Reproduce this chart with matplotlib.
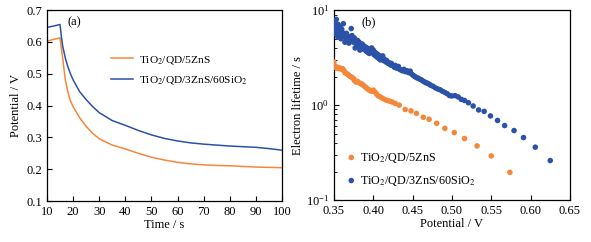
import matplotlib
matplotlib.use("Agg")
import matplotlib.pyplot as plt
from matplotlib.ticker import LogLocator, NullFormatter

plt.rcParams['font.family'] = ['Liberation Serif', 'DejaVu Serif']
plt.rcParams['mathtext.fontset'] = 'stix'
plt.rcParams['font.size'] = 9

orange = "#f5873a"
blue = "#2a52a8"

labels = [r"TiO$_2$/QD/5ZnS", r"TiO$_2$/QD/3ZnS/60SiO$_2$"]

# (a) open-circuit voltage decay
time = [10, 12.5, 15, 15.5, 16, 17, 18, 19, 20, 22.5, 25, 27.5, 30, 35, 40,
        45, 50, 55, 60, 65, 70, 75, 80, 85, 90, 95, 100]
v_zns = [0.603, 0.608, 0.613, 0.58, 0.55, 0.482, 0.443, 0.415, 0.397, 0.362,
         0.335, 0.313, 0.296, 0.276, 0.264, 0.25, 0.238, 0.229, 0.222, 0.217,
         0.214, 0.212, 0.211, 0.209, 0.207, 0.206, 0.205]
v_sio2 = [0.646, 0.65, 0.655, 0.618, 0.588, 0.55, 0.522, 0.5, 0.481, 0.444,
          0.419, 0.397, 0.378, 0.353, 0.338, 0.322, 0.308, 0.297, 0.289, 0.283,
          0.279, 0.276, 0.273, 0.271, 0.269, 0.265, 0.26]

# (b) electron lifetime vs potential
pot_zns = [0.350, 0.351, 0.352, 0.354, 0.355, 0.357, 0.358, 0.360, 0.361, 0.363,
           0.364, 0.366, 0.368, 0.369, 0.371, 0.373, 0.375, 0.376, 0.378, 0.380,
           0.382, 0.384, 0.386, 0.388, 0.390, 0.392, 0.394, 0.396, 0.398, 0.400,
           0.402, 0.404, 0.406, 0.409, 0.412, 0.415, 0.418, 0.421, 0.424, 0.428,
           0.433, 0.4406, 0.448, 0.455, 0.4636, 0.471, 0.4806, 0.491, 0.503,
           0.516, 0.532, 0.550, 0.5737]
tau_zns = [2.85, 2.6, 2.5, 2.45, 2.5, 2.42, 2.45, 2.38, 2.42, 2.3,
           2.2, 2.15, 2.1, 2.05, 2.0, 1.96, 1.9, 1.82, 1.75, 1.78,
           1.72, 1.68, 1.66, 1.6, 1.55, 1.5, 1.46, 1.42, 1.40, 1.44,
           1.38, 1.32, 1.26, 1.22, 1.18, 1.14, 1.12, 1.10, 1.08, 1.04,
           1.0, 0.90, 0.87, 0.82, 0.745, 0.71, 0.644, 0.57, 0.514,
           0.445, 0.372, 0.292, 0.196]

pot_sio2 = [0.350, 0.351, 0.351, 0.352, 0.352, 0.353, 0.354, 0.355, 0.355, 0.356,
            0.357, 0.358, 0.359, 0.360, 0.361, 0.362, 0.363, 0.364, 0.365, 0.366,
            0.367, 0.368, 0.369, 0.370, 0.371, 0.372, 0.373, 0.374, 0.375, 0.376,
            0.377, 0.378, 0.379, 0.380, 0.381, 0.382, 0.383, 0.384, 0.385, 0.386,
            0.387, 0.388, 0.389, 0.390, 0.391, 0.392, 0.393, 0.394, 0.395, 0.396,
            0.397, 0.398, 0.399, 0.400, 0.401, 0.402, 0.403, 0.404, 0.405, 0.406,
            0.407, 0.408, 0.409, 0.410, 0.412, 0.413, 0.414, 0.416, 0.417, 0.419,
            0.420, 0.422, 0.423, 0.425, 0.427, 0.428, 0.430, 0.432, 0.433, 0.435,
            0.437, 0.439, 0.441, 0.443, 0.445, 0.447, 0.449, 0.451, 0.453, 0.455,
            0.457, 0.459, 0.461, 0.463, 0.465, 0.467, 0.469, 0.471, 0.473, 0.476,
            0.479, 0.482, 0.485, 0.488, 0.491, 0.494, 0.497, 0.500, 0.504, 0.508,
            0.512, 0.516, 0.521, 0.527, 0.534, 0.541, 0.549, 0.558, 0.567, 0.579,
            0.591, 0.606, 0.625]
tau_sio2 = [7.8, 6.9, 6.2, 7.3, 5.6, 8.0, 6.6, 5.2, 7.1, 6.0,
            5.5, 6.8, 5.0, 6.3, 5.8, 7.2, 5.4, 4.6, 5.1, 5.7,
            4.8, 5.3, 4.5, 5.0, 4.7, 6.4, 5.4, 4.9, 4.6, 5.1,
            4.0, 4.5, 4.2, 4.8, 4.4, 4.6, 3.8, 4.3, 4.1, 4.4,
            3.9, 4.2, 3.9, 4.1, 3.7, 4.0, 3.6, 3.9, 3.5, 3.8,
            3.6, 4.0, 3.6, 3.8, 3.4, 3.6, 3.3, 3.5, 3.2, 3.4,
            3.1, 3.3, 3.0, 3.2, 3.3, 2.95, 3.05, 2.85, 2.95, 2.75,
            2.8, 2.65, 2.75, 2.6, 2.5, 2.62, 2.45, 2.55, 2.4, 2.35,
            2.3, 2.38, 2.25, 2.3, 2.2, 2.28, 2.12, 2.05, 2.0, 1.95,
            1.92, 1.88, 1.85, 1.8, 1.76, 1.72, 1.7, 1.66, 1.62, 1.58,
            1.52, 1.48, 1.45, 1.40, 1.36, 1.32, 1.26, 1.25, 1.26, 1.22,
            1.15, 1.12, 1.06, 0.98, 0.89, 0.86, 0.77, 0.69, 0.61, 0.54,
            0.456, 0.361, 0.261]

fig = plt.figure(figsize=(5.91, 2.42), dpi=100)
ax1 = fig.add_axes([0.0795, 0.169, 0.3976, 0.789])
ax2 = fig.add_axes([0.565, 0.173, 0.3993, 0.785])

ax1.plot(time, v_zns, color=orange, lw=1.1, label=labels[0])
ax1.plot(time, v_sio2, color=blue, lw=1.1, label=labels[1])
ax1.set_xlim(10, 100)
ax1.set_ylim(0.1, 0.7)
ax1.set_xticks(range(10, 101, 10))
ax1.set_yticks([0.1, 0.2, 0.3, 0.4, 0.5, 0.6, 0.7])
ax1.set_xlabel("Time / s", labelpad=1)
ax1.set_ylabel("Potential / V", labelpad=3)
ax1.text(0.088, 0.97, "(a)", transform=ax1.transAxes, va="top", ha="left")
ax1.legend(loc="upper left", bbox_to_anchor=(0.255, 0.795), frameon=False,
           handlelength=1.9, handletextpad=0.5, labelspacing=0.75,
           borderaxespad=0, fontsize=8.2)

ax2.scatter(pot_zns, tau_zns, s=16, color=orange, edgecolors="none",
            label=labels[0], zorder=3)
ax2.scatter(pot_sio2, tau_sio2, s=16, color=blue, edgecolors="none",
            label=labels[1], zorder=3)
ax2.set_yscale("log")
ax2.set_xlim(0.35, 0.65)
ax2.set_ylim(0.1, 10)
ax2.set_xticks([0.35, 0.40, 0.45, 0.50, 0.55, 0.60, 0.65])
ax2.set_xticklabels(["0.35", "0.40", "0.45", "0.50", "0.55", "0.60", "0.65"])
ax2.yaxis.set_minor_locator(LogLocator(base=10, subs=range(2, 10)))
ax2.yaxis.set_minor_formatter(NullFormatter())
ax2.set_xlabel("Potential / V", labelpad=1)
ax2.set_ylabel("Electron lifetime / s", labelpad=1)
ax2.text(0.115, 0.97, "(b)", transform=ax2.transAxes, va="top", ha="left")
ax2.legend(loc="lower left", bbox_to_anchor=(0.03, 0.04), frameon=False,
           handlelength=0.9, handletextpad=0.25, labelspacing=0.75,
           borderaxespad=0, fontsize=8.7)

for ax in (ax1, ax2):
    ax.tick_params(which="major", direction="in", length=3.5, width=0.8,
                   top=False, right=False, pad=3.5)
    ax.tick_params(which="minor", direction="in", length=2, width=0.6,
                   top=False, right=False)
    for sp in ax.spines.values():
        sp.set_linewidth(0.9)

fig.savefig("out.png", dpi=100)
